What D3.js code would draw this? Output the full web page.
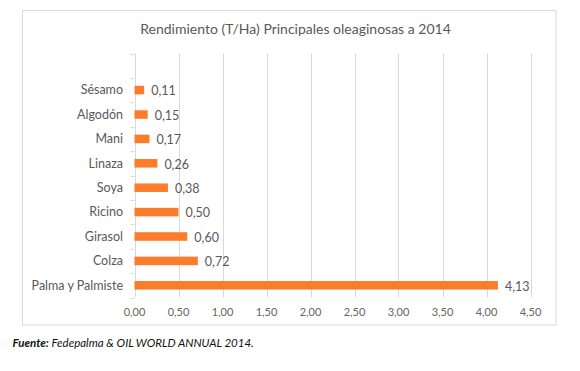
<!DOCTYPE html>
<meta charset="utf-8">
<style>
body { margin: 0; background: #fff; }
svg { font-family: Lato, "Open Sans", sans-serif; }
.grid line { stroke: #d9d9d9; stroke-width: 1; }
.cat { fill: #595959; font-size: 12.5px; }
.tick-label { fill: #666; font-size: 11px; }
.val { fill: #595959; font-size: 12.5px; }
.bar { fill: #fb7d2b; }
</style>
<svg width="580" height="371"></svg>
<script src="https://d3js.org/d3.v7.min.js"></script>
<script>

// data (top to bottom)
var categories = ["Sésamo", "Algodón", "Mani", "Linaza", "Soya", "Ricino", "Girasol", "Colza", "Palma y Palmiste"];
var values = [0.11, 0.15, 0.17, 0.26, 0.38, 0.50, 0.60, 0.72, 4.13];
var xTicks = [0, 0.5, 1, 1.5, 2, 2.5, 3, 3.5, 4, 4.5];
var title = "Rendimiento (T/Ha) Principales oleaginosas a 2014";

var svg = d3.select("svg");

var es = d3.formatLocale({decimal: ",", thousands: ".", grouping: [3], currency: ["", "€"]});
var fmt = es.format(".2f");

// frame
svg.append("rect")
    .attr("x", 22.5).attr("y", 10.5)
    .attr("width", 533.5).attr("height", 314.5)
    .attr("fill", "#fff")
    .attr("stroke", "#d9d9d9");

svg.append("text")
    .attr("x", 295.5).attr("y", 33.5)
    .attr("text-anchor", "middle")
    .attr("fill", "#595959")
    .style("font-size", "14px")
    .text(title);

var x = d3.scaleLinear().domain([0, 4.5]).range([134.5, 530.5]);

// the sheet had an empty row above Sésamo
var p = 0.65;
var y = d3.scaleBand()
    .domain([""].concat(categories))
    .range([53.5, 297.5])
    .paddingInner(p)
    .paddingOuter(p / 2);

var grid = svg.append("g").attr("class", "grid");
grid.selectAll("line.v")
  .data(xTicks)
  .enter().append("line")
    .attr("class", "v")
    .attr("x1", function(d) { return Math.round(x(d)) + 0.5; })
    .attr("x2", function(d) { return Math.round(x(d)) + 0.5; })
    .attr("y1", y.range()[0])
    .attr("y2", y.range()[1]);

// tick marks on the category axis, at band boundaries
var bounds = d3.range(y.domain().length + 1).map(function(i) { return y.range()[0] + i * y.step(); });
grid.selectAll("line.h")
  .data(bounds)
  .enter().append("line")
    .attr("class", "h")
    .attr("x1", x(0) - 4)
    .attr("x2", x(0))
    .attr("y1", function(d) { return Math.round(d) + 0.5; })
    .attr("y2", function(d) { return Math.round(d) + 0.5; });

svg.selectAll(".tick-label")
  .data(xTicks)
  .enter().append("text")
    .attr("class", "tick-label")
    .attr("x", function(d) { return x(d); })
    .attr("y", 315.5)
    .attr("text-anchor", "middle")
    .text(function(d) { return fmt(d); });

svg.selectAll(".cat")
  .data(categories)
  .enter().append("text")
    .attr("class", "cat")
    .attr("x", 123)
    .attr("y", function(d) { return y(d) + y.bandwidth() / 2; })
    .attr("dy", "0.35em")
    .attr("text-anchor", "end")
    .text(function(d) { return d; });

svg.selectAll(".bar")
  .data(values)
  .enter().append("rect")
    .attr("class", "bar")
    .attr("x", x(0))
    .attr("y", function(d, i) { return y(categories[i]); })
    .attr("width", function(d) { return x(d) - x(0); })
    .attr("height", y.bandwidth());

svg.selectAll(".val")
  .data(values)
  .enter().append("text")
    .attr("class", "val")
    .attr("x", function(d) { return x(d) + 7; })
    .attr("y", function(d, i) { return y(categories[i]) + y.bandwidth() / 2 + 1; })
    .attr("dy", "0.35em")
    .text(function(d) { return fmt(d); });

// source note
var src = svg.append("text")
    .attr("x", 12.5).attr("y", 347)
    .attr("fill", "#111")
    .style("font-size", "11.5px")
    .style("font-style", "italic");
src.append("tspan").style("font-weight", "bold").text("Fuente:");
src.append("tspan").text(" Fedepalma & OIL WORLD ANNUAL 2014.");

</script>
